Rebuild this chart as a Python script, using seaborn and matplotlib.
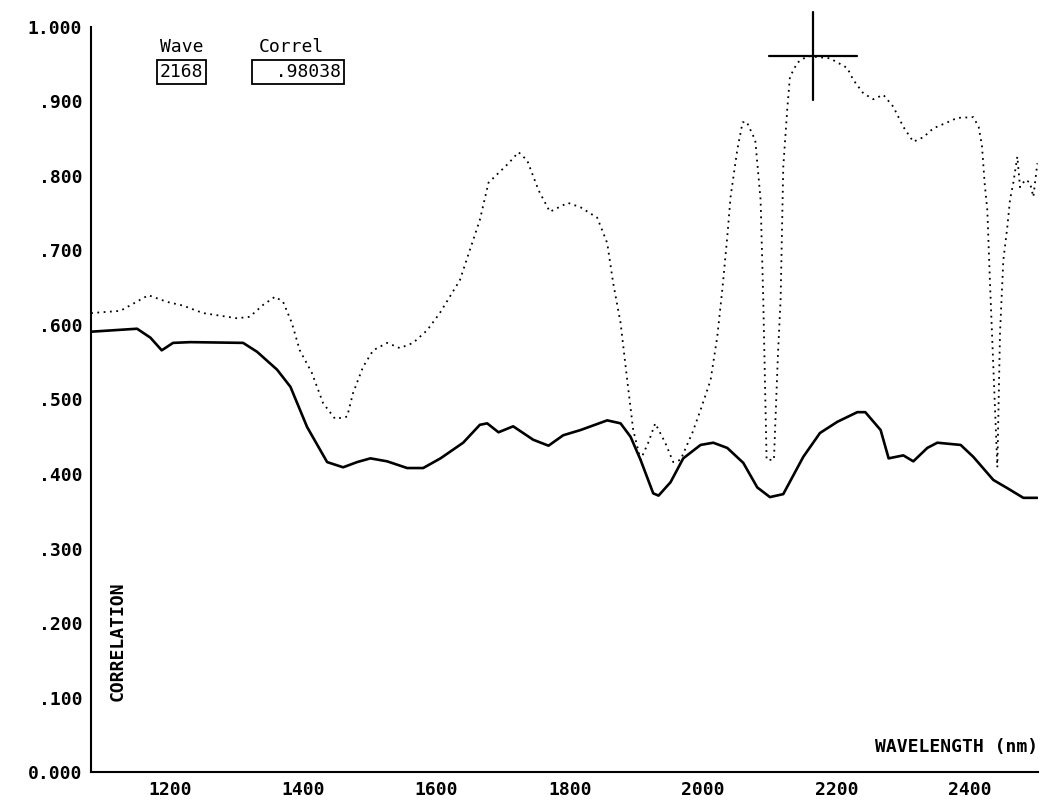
import matplotlib
matplotlib.use('Agg')
import matplotlib.pyplot as plt
import matplotlib.transforms as mtransforms
import numpy as np
import seaborn as sns

# Correlation spectrum values
wave_solid = [1100, 1169, 1189, 1206, 1223, 1249, 1328, 1349, 1379, 1399, 1424, 1454, 1478,
              1499, 1519, 1544, 1574, 1598, 1624, 1658, 1683, 1694, 1711, 1733, 1763, 1786,
              1808, 1834, 1874, 1894, 1909, 1924, 1943, 1951, 1969, 1988, 2014, 2033, 2054,
              2078, 2099, 2118, 2138, 2168, 2193, 2219, 2249, 2261, 2284, 2296, 2318, 2333,
              2354, 2369, 2404, 2423, 2453, 2474, 2498, 2519]
corr_solid = [.591, .595, .583, .566, .576, .577, .576, .564, .540, .517, .463, .416, .409,
              .416, .421, .417, .408, .408, .421, .442, .466, .468, .456, .464, .446, .438,
              .452, .459, .472, .468, .450, .419, .374, .371, .389, .421, .439, .442, .435,
              .415, .382, .369, .373, .423, .455, .470, .483, .483, .459, .421, .425, .417,
              .435, .442, .439, .423, .392, .381, .368, .368]

wave_dot = [1100, 1144, 1186, 1214, 1238, 1268, 1319, 1338, 1358, 1376, 1388, 1401, 1413,
            1431, 1448, 1466, 1484, 1493, 1508, 1523, 1544, 1563, 1583, 1604, 1623, 1653,
            1683, 1696, 1711, 1726, 1741, 1754, 1771, 1788, 1815, 1834, 1859, 1874, 1883,
            1894, 1904, 1913, 1924, 1936, 1946, 1961, 1973, 1984, 2002, 2014, 2029, 2039,
            2047, 2054, 2059, 2069, 2077, 2083, 2096, 2104, 2108, 2113, 2124, 2130, 2134,
            2138, 2144, 2148, 2159, 2174, 2208, 2234, 2243, 2258, 2273, 2288, 2303, 2318,
            2333, 2348, 2363, 2384, 2399, 2423, 2431, 2436, 2440, 2444, 2448, 2453, 2459,
            2463, 2468, 2474, 2478, 2483, 2489, 2493, 2501, 2508, 2513, 2519]
corr_dot = [.616, .619, .640, .631, .626, .616, .609, .611, .627, .638, .631, .603, .566,
            .536, .495, .474, .477, .509, .544, .566, .576, .569, .576, .593, .616, .660,
            .741, .791, .804, .817, .832, .821, .781, .752, .764, .758, .744, .710, .656,
            .603, .526, .459, .419, .443, .468, .442, .416, .419, .456, .486, .526, .584,
            .651, .718, .772, .835, .872, .873, .848, .768, .634, .419, .419, .560, .634,
            .812, .890, .933, .952, .961, .958, .945, .929, .911, .903, .909, .893, .866,
            .846, .852, .864, .872, .878, .879, .866, .840, .790, .754, .656, .544, .409,
            .589, .687, .732, .768, .791, .826, .785, .795, .791, .772, .817]

x_major = [1200, 1400, 1600, 1800, 2000, 2200, 2400]
x_minor = [1300, 1500, 1700, 1900, 2100, 2300]
y_major = [0.0, 0.1, 0.2, 0.3, 0.4, 0.5, 0.6, 0.7, 0.8, 0.9, 1.0]
y_labels = ['0.000', '.100', '.200', '.300', '.400', '.500', '.600', '.700', '.800', '.900', '1.000']

cursor_wave = 2183
cursor_corr = 0.961

sns.set_theme(style='white')
plt.rcParams['font.family'] = ['DejaVu Sans Mono']
plt.rcParams['text.color'] = 'black'
mono = dict(family='DejaVu Sans Mono', fontweight='bold', color='black')

fig = plt.figure(figsize=(10.55, 8.01), dpi=100)
ax = fig.add_axes([0.0863, 0.0362, 0.8976, 0.9301])

sns.lineplot(x=wave_solid, y=corr_solid, ax=ax, color='black', linewidth=1.9,
             sort=False, estimator=None)
sns.lineplot(x=wave_dot, y=corr_dot, ax=ax, color='black', linewidth=1.3,
             linestyle=(0, (1, 2.5)), sort=False, estimator=None)

# cursor cross
ax.plot([cursor_wave - 66, cursor_wave + 66], [cursor_corr, cursor_corr], color='black',
        linewidth=1.6, clip_on=False)
ax.plot([cursor_wave, cursor_wave], [cursor_corr - 0.059, cursor_corr + 0.059], color='black',
        linewidth=1.6, clip_on=False)

ax.set_xlim(1100, 2520)
ax.set_ylim(0, 1.0)
for s in ['top', 'right']:
    ax.spines[s].set_visible(False)
for s in ['left', 'bottom']:
    ax.spines[s].set_color('black')
    ax.spines[s].set_linewidth(1.5)

ax.set_xticks(x_major)
ax.set_xticklabels([str(v) for v in x_major], **mono, fontsize=13)
ax.set_xticks(x_minor, minor=True)
ax.set_yticks(y_major)
ax.set_yticklabels(y_labels, **mono, fontsize=13)
ax.set_yticks(np.arange(0.05, 1.0, 0.1), minor=True)
ax.tick_params(axis='both', which='major', direction='inout', length=9, width=1.3,
               color='black', pad=2)
ax.tick_params(axis='both', which='minor', direction='in', length=5, width=1.3, color='black')

shift = mtransforms.ScaledTranslation(0.12, 0, fig.dpi_scale_trans)
for lab in ax.get_xticklabels():
    lab.set_transform(lab.get_transform() + shift)

ax.set_xlabel('')
ax.set_ylabel('')
ax.text(2520, 0.034, 'WAVELENGTH (nm)', ha='right', va='center', fontsize=13, **mono)
ax.text(0.028, 0.175, 'CORRELATION', rotation=90, ha='center', va='center',
        transform=ax.transAxes, fontsize=13, **mono)

# readout boxes
fig.text(0.152, 0.941, 'Wave', ha='left', va='center', fontsize=13,
         family='DejaVu Sans Mono', color='black')
fig.text(0.245, 0.941, 'Correl', ha='left', va='center', fontsize=13,
         family='DejaVu Sans Mono', color='black')
box = dict(boxstyle='square,pad=0.15', facecolor='white', edgecolor='black', linewidth=1.3)
fig.text(0.151, 0.910, '2168', ha='left', va='center', fontsize=13,
         family='DejaVu Sans Mono', color='black', bbox=box)
fig.text(0.241, 0.910, '  .98038', ha='left', va='center', fontsize=13,
         family='DejaVu Sans Mono', color='black', bbox=box)

fig.savefig('out.png', dpi=100, facecolor='white')
